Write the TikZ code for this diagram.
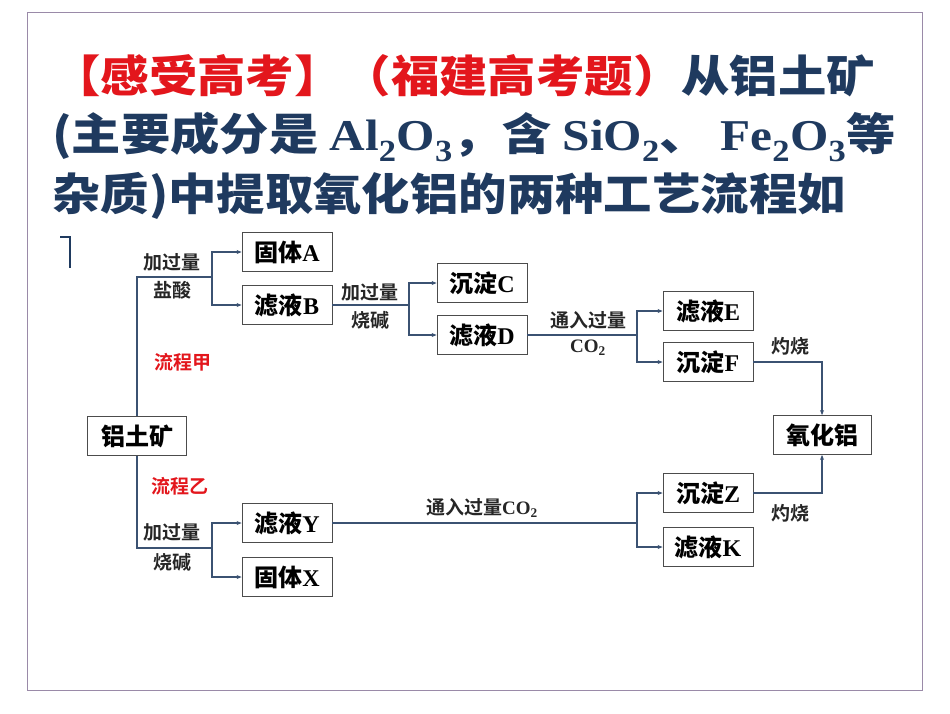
\documentclass[tikz,border=0pt]{standalone}
\usepackage{fontspec}
\usepackage{graphicx}
\setmainfont{Liberation Serif}
\newfontfamily\cjk{Noto Sans CJK SC}
\newfontfamily\cjkb{Noto Sans CJK SC Bold}
\usetikzlibrary{positioning}
\usetikzlibrary{arrows.meta}
\definecolor{titleblue}{HTML}{1F3A5F}
\definecolor{titlered}{HTML}{E3161C}
\definecolor{linkblue}{HTML}{3B5272}
\definecolor{framegray}{HTML}{9A8AA8}
\tikzset{
  stepbox/.style={draw=black!70, line width=0.8pt, minimum width=90pt, minimum height=39pt,
    inner sep=2pt, font=\fontsize{24}{24}\selectfont\bfseries},
  link/.style={draw=linkblue, line width=1.4pt},
  arr/.style={link, -{Stealth[length=5pt,width=4pt]}},
  tag/.style={font=\cjkb\fontsize{19}{21}\selectfont, text=black!85, inner sep=1pt},
  redtag/.style={tag, text=titlered},
  title/.style={anchor=base west, inner sep=0pt, text=titleblue,
    font=\fontsize{44}{44}\selectfont\bfseries}
}
\begin{document}
\begin{tikzpicture}[x=1pt,y=-1pt]
    \useasboundingbox (0,0) rectangle (950,713);
    \fill[white] (0,0) rectangle (950,713);
    \draw[framegray, line width=0.8pt] (27,12) rectangle (922,690);

    %title
    \node[title] (t1) at (52,92) {\scalebox{1.1}[1]{\cjkb\textcolor{titlered}{【感受高考】（福建高考题）}从铝土矿}};
    \node[title] (t2) at (52,150) {\scalebox{1.12}[1]{{\cjkb (主要成分是 }Al\textsubscript{2}O\textsubscript{3}{\cjkb ，含 }SiO\textsubscript{2}{\cjkb 、 }Fe\textsubscript{2}O\textsubscript{3}{\cjkb 等}}};
    \node[title] (t3) at (52,210) {\scalebox{1.1}[1]{\cjkb 杂质)中提取氧化铝的两种工艺流程如}};
    \draw[titleblue, line width=2.5pt] (60,237) -- (70,237) -- (70,268);

    %boxes
    \node[stepbox, minimum width=99pt] (ore) at (137,436) {\cjkb 铝土矿};
    \node[stepbox] (A) at (287,252) {{\cjkb 固体}A};
    \node[stepbox] (B) at (287,305) {{\cjkb 滤液}B};
    \node[stepbox] (C) at (482,283) {{\cjkb 沉淀}C};
    \node[stepbox] (D) at (482,335) {{\cjkb 滤液}D};
    \node[stepbox] (E) at (708,311) {{\cjkb 滤液}E};
    \node[stepbox] (F) at (708,362) {{\cjkb 沉淀}F};
    \node[stepbox, minimum width=98pt] (alu) at (822,435) {\cjkb 氧化铝};
    \node[stepbox] (Z) at (708,493) {{\cjkb 沉淀}Z};
    \node[stepbox] (K) at (708,547) {{\cjkb 滤液}K};
    \node[stepbox] (Y) at (287,523) {{\cjkb 滤液}Y};
    \node[stepbox] (X) at (287,577) {{\cjkb 固体}X};

    %branch points
    \coordinate (j1) at (212,277);
    \coordinate (j2) at (212,548);
    \coordinate (j3) at (409,305);
    \coordinate (j4) at (637,335);
    \coordinate (j5) at (637,523);

    %connectors
    \draw[link] (ore.north) |- (j1);
    \draw[arr] (j1) |- (A.west);
    \draw[arr] (j1) |- (B.west);
    \draw[link] (ore.south) |- (j2);
    \draw[arr] (j2) |- (Y.west);
    \draw[arr] (j2) |- (X.west);
    \draw[link] (B.east) -- (j3);
    \draw[arr] (j3) |- (C.west);
    \draw[arr] (j3) |- (D.west);
    \draw[link] (D.east) -- (j4);
    \draw[arr] (j4) |- (E.west);
    \draw[arr] (j4) |- (F.west);
    \draw[link] (Y.east) -- (j5);
    \draw[arr] (j5) |- (Z.west);
    \draw[arr] (j5) |- (K.west);
    \draw[arr] (F.east) -| (alu.north);
    \draw[arr] (Z.east) -| (alu.south);

    %labels
    \node[tag] (l1) at (172,262) {加过量};
    \node[tag] (l2) at (172,290) {盐酸};
    \node[redtag] (l3) at (183,362) {流程甲};
    \node[redtag] (l4) at (180,486) {流程乙};
    \node[tag] (l5) at (172,532) {加过量};
    \node[tag] (l6) at (172,562) {烧碱};
    \node[tag] (l7) at (370,292) {加过量};
    \node[tag] (l8) at (370,320) {烧碱};
    \node[tag] (l9) at (588,320) {通入过量};
    \node[tag, font=\fontsize{19}{21}\selectfont\bfseries] (l10) at (588,348) {CO\textsubscript{2}};
    \node[tag] (l11) at (790,346) {灼烧};
    \node[tag] (l12) at (790,513) {灼烧};
    \node[tag] (l13) at (482,508) {通入过量{\fontspec{Liberation Serif}\bfseries CO\textsubscript{2}}};
\end{tikzpicture}
\end{document}
